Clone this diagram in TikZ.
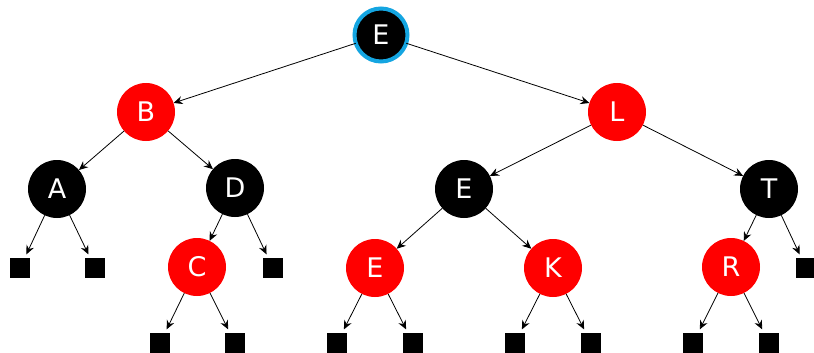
\documentclass[tikz,border=0pt]{standalone}
\usepackage{fontspec}
\setmainfont{DejaVu Sans}
\usepackage{tikz}
\usetikzlibrary{arrows.meta}
\definecolor{rbred}{RGB}{255, 0, 0}
\definecolor{rootring}{RGB}{20, 165, 225}
\tikzset{
  vertex/.style={circle, minimum size=58pt, inner sep=0pt, outer sep=0pt, text=white,
    font=\fontsize{27}{27}\selectfont},
  rednode/.style={vertex, fill=rbred},
  blacknode/.style={vertex, fill=black},
  leaf/.style={rectangle, fill=black, minimum size=20pt, inner sep=0pt, outer sep=0pt},
  edge/.style={-{Stealth[length=9pt, width=8pt, inset=3pt]}, line width=0.8pt},
}

\begin{document}
\begin{tikzpicture}[x=1pt, y=-1pt]
  \useasboundingbox (0, 0) rectangle (814, 353);

  \node[blacknode, draw=rootring, line width=4pt, minimum size=53pt] (root) at (381, 35) {E};
  \node[rednode] (B) at (146, 112) {B};
  \node[rednode] (L) at (617, 112) {L};
  \node[blacknode] (A) at (57, 189) {A};
  \node[blacknode] (D) at (235, 188) {D};
  \node[blacknode] (E2) at (464, 189) {E};
  \node[blacknode] (T) at (769, 189) {T};
  \node[rednode] (C) at (197, 267) {C};
  \node[rednode] (E3) at (375, 268) {E};
  \node[rednode] (K) at (553, 268) {K};
  \node[rednode] (R) at (731, 267) {R};

  % nil leaves
  \node[leaf] (nA1) at (20, 268) {};
  \node[leaf] (nA2) at (95, 268) {};
  \node[leaf] (nD) at (273, 268) {};
  \node[leaf] (nT) at (806, 268) {};
  \node[leaf] (nC1) at (160, 343) {};
  \node[leaf] (nC2) at (235, 343) {};
  \node[leaf] (nE1) at (337, 343) {};
  \node[leaf] (nE2) at (413, 343) {};
  \node[leaf] (nK1) at (515, 343) {};
  \node[leaf] (nK2) at (591, 343) {};
  \node[leaf] (nR1) at (693, 343) {};
  \node[leaf] (nR2) at (769, 343) {};

  \draw[edge] (root) -- (B);
  \draw[edge] (root) -- (L);
  \draw[edge] (B) -- (A);
  \draw[edge] (B) -- (D);
  \draw[edge] (L) -- (E2);
  \draw[edge] (L) -- (T);
  \draw[edge] (D) -- (C);
  \draw[edge] (E2) -- (E3);
  \draw[edge] (E2) -- (K);
  \draw[edge] (T) -- (R);

  \foreach \p/\c in {A/nA1, A/nA2, D/nD, T/nT, C/nC1, C/nC2, E3/nE1, E3/nE2, K/nK1, K/nK2, R/nR1, R/nR2}
    \draw[edge, shorten >=4pt] (\p) -- (\c);
\end{tikzpicture}
\end{document}
